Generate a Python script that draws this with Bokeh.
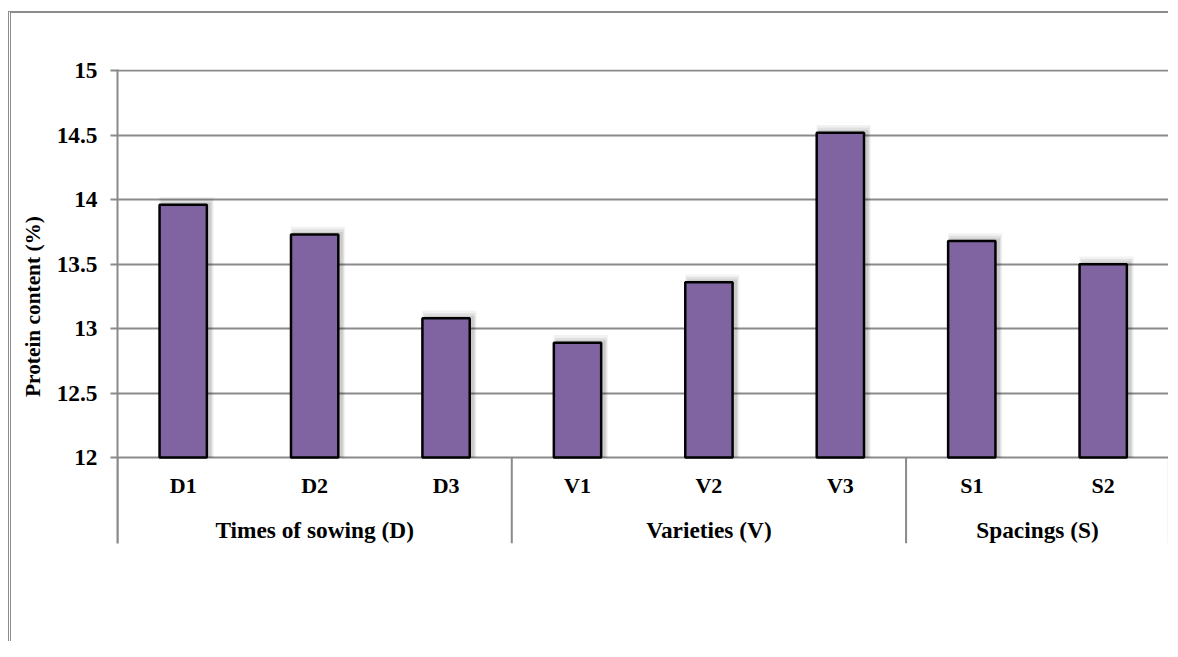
from bokeh.plotting import figure
from bokeh.models import Range1d, FixedTicker, CustomJSTickFormatter, ColumnDataSource
from bokeh.core.properties import value
from bokeh.embed import file_html
from bokeh.resources import INLINE

# ---- data ----
groups = ["Times of sowing (D)", "Varieties (V)", "Spacings (S)"]
group_sizes = [3, 3, 2]
categories = ["D1", "D2", "D3", "V1", "V2", "V3", "S1", "S2"]
protein = [13.96, 13.73, 13.08, 12.89, 13.36, 14.52, 13.68, 13.50]
y_ticks = [12, 12.5, 13, 13.5, 14, 14.5, 15]

FONT = "Liberation Serif"
GRID = "#8a8a8a"
BAR = "#8064A2"

ymin_axis = 12.0
y_bottom = 11.333
n = len(categories)
xs = [i + 0.5 for i in range(n)]

p = figure(width=1160, height=630, output_backend="svg", toolbar_location=None,
           x_range=Range1d(0, n + 0.012), y_range=Range1d(y_bottom, 15.01),
           min_border_left=106, min_border_right=1, min_border_top=56, min_border_bottom=100)
p.outline_line_color = None
p.background_fill_color = "white"
p.border_fill_color = "white"
p.styles = {"border-top": "2px solid #8c8c8c", "border-left": "3px double #8c8c8c",
            "margin-top": "11px", "margin-left": "8px"}

# grid
p.xgrid.visible = False
p.ygrid.ticker = FixedTicker(ticks=y_ticks)
p.ygrid.grid_line_color = GRID
p.ygrid.grid_line_width = 2

# axes
p.xaxis.visible = False
ax = p.yaxis[0]
ax.ticker = FixedTicker(ticks=y_ticks)
ax.formatter = CustomJSTickFormatter(code="return tick.toString();")
ax.axis_line_color = GRID
ax.axis_line_width = 2
ax.major_tick_line_color = GRID
ax.major_tick_line_width = 2
ax.major_tick_out = 7
ax.major_tick_in = 0
ax.minor_tick_line_color = None
ax.major_label_text_font = FONT
ax.major_label_text_font_style = "bold"
ax.major_label_text_font_size = "17.5pt"
ax.major_label_text_color = "black"
ax.major_label_standoff = 13
ax.axis_label = "Protein content (%)"
ax.axis_label_text_font = FONT
ax.axis_label_text_font_style = "bold"
ax.axis_label_text_font_size = "16pt"
ax.axis_label_text_color = "black"
ax.axis_label_standoff = 9

# shadows
for k, a in [(3, 0.05), (2, 0.07), (1, 0.09)]:
    p.vbar(x=[x + 0.025 for x in xs], width=0.36 + 0.018 * k,
           top=[v + 0.02 * k for v in protein], bottom=ymin_axis,
           fill_color="black", fill_alpha=a, line_color=None)

# bars
src = ColumnDataSource(dict(x=xs, top=protein, cat=categories))
p.vbar(x="x", width=0.36, top="top", bottom=ymin_axis, source=src,
       fill_color=BAR, line_color="black", line_width=2.5)

# separators between groups
edges = [0]
for s in group_sizes:
    edges.append(edges[-1] + s)
p.segment(x0=edges, x1=edges, y0=[ymin_axis] * len(edges), y1=[y_bottom] * len(edges),
          line_color=GRID, line_width=2)

# category labels
p.text(x=xs, y=[ymin_axis - 0.217] * n, text=categories,
       text_font=value(FONT), text_font_style="bold", text_font_size="16.5pt",
       text_align="center", text_baseline="middle", text_color="black")

# group labels
gx = [(edges[i] + edges[i + 1]) / 2 for i in range(len(groups))]
p.text(x=gx, y=[ymin_axis - 0.566] * len(groups), text=groups,
       text_font=value(FONT), text_font_style="bold", text_font_size="17.5pt",
       text_align="center", text_baseline="middle", text_color="black")

open("out.html", "w").write(file_html(p, INLINE))
